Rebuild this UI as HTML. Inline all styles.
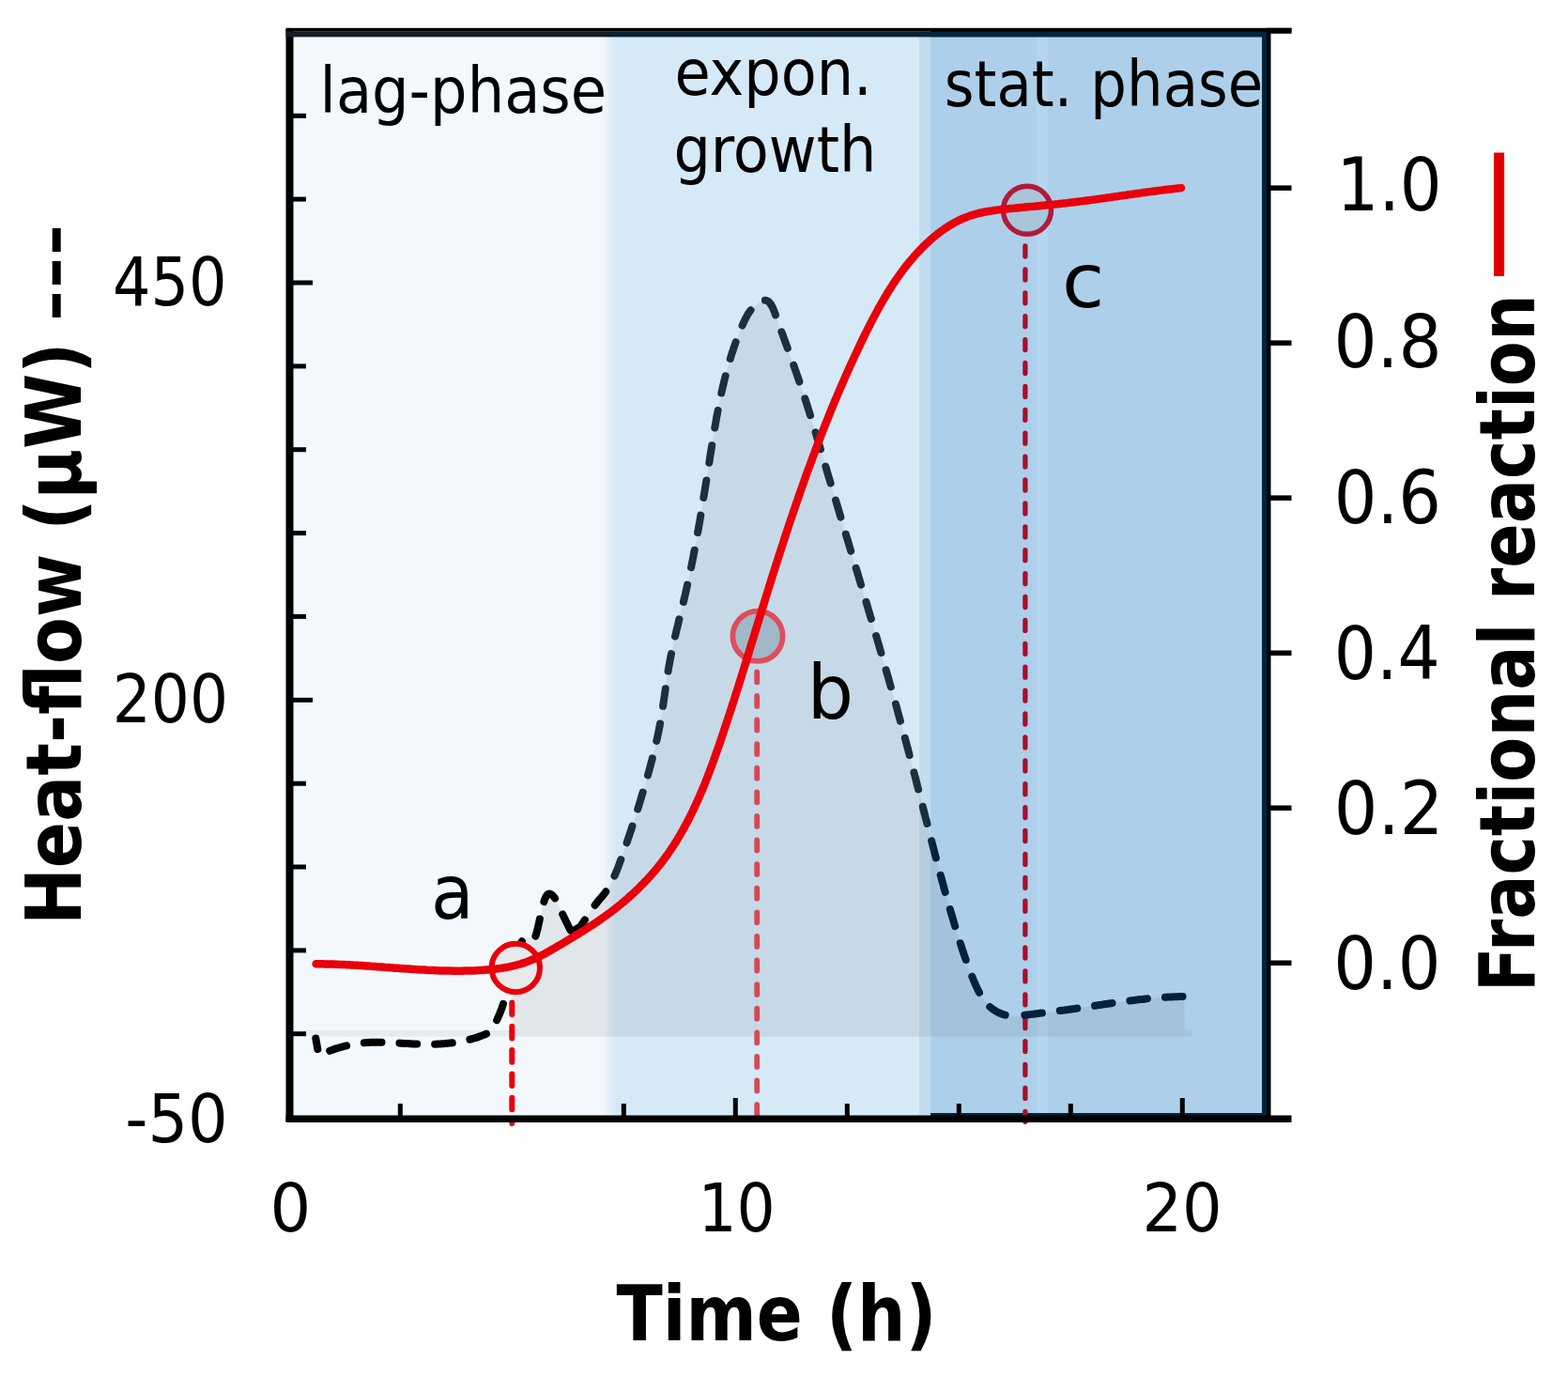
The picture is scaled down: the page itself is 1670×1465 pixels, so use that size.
<!DOCTYPE html>
<html><head><meta charset="utf-8"><title>Heat-flow and fractional reaction</title>
<style>html,body{margin:0;padding:0;background:#fff;}body{width:1670px;height:1465px;overflow:hidden;}svg{display:block;}</style>
</head><body>
<svg width="1670" height="1465" viewBox="0 0 1670 1465">
<defs>
<linearGradient id="hg" gradientUnits="userSpaceOnUse" x1="313" y1="0" x2="1349" y2="0"><stop offset="0" stop-color="#000"/><stop offset="0.3204" stop-color="#000"/><stop offset="0.3301" stop-color="#1c2f3d"/><stop offset="0.6506" stop-color="#1c2f3d"/><stop offset="0.6602" stop-color="#02213a"/><stop offset="1" stop-color="#02213a"/></linearGradient>
<linearGradient id="eg" x1="0" y1="0" x2="1" y2="0"><stop offset="0" stop-color="#f3f8fc"/><stop offset="1" stop-color="#d6e9f6"/></linearGradient>
</defs>
<rect width="1670" height="1465" fill="#fff"/>
<rect x="312" y="36" width="336" height="1152" fill="#f3f8fc"/>
<rect x="642" y="36" width="14" height="1152" fill="url(#eg)"/>
<rect x="656" y="36" width="324" height="1152" fill="#d6e9f6"/>
<rect x="979" y="36" width="12" height="1152" fill="#c2dcf0"/>
<rect x="991" y="36" width="358" height="1152" fill="#aecfea"/>
<rect x="1104" y="36" width="12" height="1152" fill="#b6d5ee"/>
<rect x="991" y="33" width="358" height="6.5" fill="#00253f"/>
<rect x="1344" y="36" width="5" height="1152" fill="#00253f"/>
<rect x="991" y="1185" width="358" height="4" fill="#00253f"/>
<path d="M546.0,1103.5 L546.4,1025.2 L546.9,1023.4 L547.4,1021.6 L547.9,1019.9 L548.4,1018.2 L549.0,1016.4 L549.6,1014.8 L550.3,1013.1 L551.0,1011.4 L551.7,1009.8 L552.5,1008.2 L553.3,1006.6 L554.1,1005.1 L555.0,1003.6 L556.0,1002.1 L557.0,1000.6 L558.1,999.2 L559.2,997.8 L569.5,999.5 L570.0,997.9 L570.5,996.3 L571.0,994.8 L571.4,993.2 L571.8,991.7 L572.2,990.2 L572.6,988.7 L573.0,987.2 L573.3,985.7 L573.6,984.2 L574.0,982.7 L574.3,981.2 L574.6,979.7 L574.9,978.2 L575.2,976.7 L575.5,975.2 L575.9,973.6 L576.2,972.1 L576.6,970.6 L576.9,969.0 L577.3,967.4 L577.7,965.8 L578.2,964.1 L578.6,962.5 L579.1,960.8 L579.7,959.1 L580.2,957.4 L580.9,955.8 L581.6,954.4 L582.4,953.2 L583.2,952.3 L584.2,951.7 L585.3,951.6 L586.5,951.9 L587.8,952.7 L589.3,954.2 L590.8,956.0 L591.9,957.7 L592.1,958.7 L608.5,992.5 L618.6,986.0 L629.3,969.5 L637.7,958.5 L638.9,957.1 L640.2,955.7 L641.5,954.3 L642.7,952.8 L643.8,951.4 L644.9,949.9 L646.0,948.3 L647.0,946.8 L648.0,945.2 L649.0,943.6 L649.9,942.0 L650.8,940.4 L651.6,938.8 L652.4,937.1 L653.2,935.4 L654.0,933.7 L654.8,932.0 L655.5,930.3 L656.2,928.6 L656.9,926.9 L657.6,925.2 L658.3,923.4 L658.9,921.7 L659.6,919.9 L660.2,918.2 L660.8,916.4 L661.5,914.7 L662.1,912.9 L662.7,911.1 L663.4,909.4 L664.0,907.6 L664.6,905.9 L665.2,904.1 L665.8,902.3 L666.4,900.6 L667.0,898.8 L667.6,897.0 L668.2,895.3 L668.8,893.5 L669.4,891.7 L670.0,890.0 L670.6,888.2 L671.2,886.4 L671.8,884.7 L672.4,882.9 L673.0,881.1 L673.5,879.4 L674.1,877.6 L674.7,875.8 L675.2,874.0 L675.8,872.3 L676.4,870.5 L676.9,868.7 L677.5,866.9 L678.1,865.2 L678.6,863.4 L679.2,861.6 L679.7,859.8 L680.3,858.0 L680.8,856.3 L681.4,854.5 L681.9,852.7 L682.4,850.9 L683.0,849.1 L683.5,847.3 L684.0,845.6 L684.6,843.8 L685.1,842.0 L685.6,840.2 L686.2,838.4 L686.7,836.6 L687.2,834.8 L687.7,833.1 L688.2,831.3 L688.8,829.5 L689.3,827.7 L689.8,825.9 L690.3,824.1 L690.8,822.3 L691.3,820.5 L691.8,818.7 L692.3,816.9 L692.8,815.1 L693.2,813.3 L693.7,811.5 L694.2,809.7 L694.7,807.9 L695.1,806.1 L695.6,804.3 L696.0,802.5 L696.5,800.7 L696.9,798.9 L697.4,797.1 L697.8,795.3 L698.2,793.5 L698.6,791.7 L699.0,789.9 L699.5,788.0 L699.9,786.2 L700.3,784.4 L700.6,782.6 L701.0,780.8 L701.4,778.9 L701.8,777.1 L702.1,775.3 L702.5,773.5 L702.8,771.6 L703.2,769.8 L703.5,768.0 L703.8,766.1 L704.1,764.3 L704.4,762.5 L704.7,760.6 L705.0,758.8 L705.3,756.9 L705.6,755.1 L705.9,753.3 L706.2,751.4 L706.4,749.6 L706.7,747.7 L707.0,745.9 L707.2,744.0 L707.5,742.2 L707.8,740.3 L708.0,738.5 L708.3,736.6 L708.6,734.8 L708.8,732.9 L709.1,731.1 L709.4,729.3 L709.6,727.4 L709.9,725.6 L710.2,723.7 L710.5,721.9 L710.7,720.0 L711.0,718.2 L711.3,716.3 L711.6,714.5 L711.9,712.7 L712.2,710.8 L712.5,709.0 L712.9,707.1 L713.2,705.3 L713.5,703.5 L713.9,701.7 L714.2,699.8 L714.6,698.0 L715.0,696.2 L715.3,694.3 L715.7,692.5 L716.1,690.7 L716.5,688.9 L716.9,687.1 L717.3,685.2 L717.7,683.4 L718.1,681.6 L718.5,679.8 L718.9,678.0 L719.4,676.2 L719.8,674.3 L720.2,672.5 L720.6,670.7 L721.1,668.9 L721.5,667.1 L722.0,665.3 L722.4,663.5 L722.8,661.7 L723.3,659.8 L723.7,658.0 L724.2,656.2 L724.6,654.4 L725.1,652.6 L725.5,650.8 L725.9,649.0 L726.4,647.2 L726.8,645.4 L727.3,643.5 L727.7,641.7 L728.1,639.9 L728.6,638.1 L729.0,636.3 L729.4,634.5 L729.9,632.7 L730.3,630.9 L730.7,629.0 L731.1,627.2 L731.5,625.4 L731.9,623.6 L732.3,621.8 L732.7,620.0 L733.1,618.1 L733.5,616.3 L733.9,614.5 L734.3,612.7 L734.7,610.9 L735.1,609.0 L735.4,607.2 L735.8,605.4 L736.2,603.6 L736.6,601.7 L736.9,599.9 L737.3,598.1 L737.7,596.3 L738.0,594.4 L738.4,592.6 L738.7,590.8 L739.1,588.9 L739.4,587.1 L739.8,585.3 L740.1,583.5 L740.5,581.6 L740.8,579.8 L741.1,578.0 L741.5,576.1 L741.8,574.3 L742.1,572.5 L742.5,570.6 L742.8,568.8 L743.1,567.0 L743.5,565.1 L743.8,563.3 L744.1,561.5 L744.4,559.6 L744.7,557.8 L745.1,556.0 L745.4,554.1 L745.7,552.3 L746.0,550.4 L746.3,548.6 L746.6,546.8 L746.9,544.9 L747.2,543.1 L747.5,541.2 L747.8,539.4 L748.1,537.6 L748.4,535.7 L748.7,533.9 L749.0,532.1 L749.3,530.2 L749.6,528.4 L749.9,526.5 L750.2,524.7 L750.5,522.9 L750.8,521.0 L751.1,519.2 L751.4,517.3 L751.7,515.5 L752.0,513.6 L752.3,511.8 L752.6,510.0 L752.9,508.1 L753.1,506.3 L753.4,504.4 L753.7,502.6 L754.0,500.8 L754.3,498.9 L754.6,497.1 L754.9,495.2 L755.2,493.4 L755.5,491.5 L755.8,489.7 L756.0,487.9 L756.3,486.0 L756.6,484.2 L756.9,482.3 L757.2,480.5 L757.5,478.6 L757.8,476.8 L758.1,475.0 L758.4,473.1 L758.7,471.3 L759.0,469.4 L759.3,467.6 L759.6,465.8 L759.9,463.9 L760.2,462.1 L760.5,460.2 L760.8,458.4 L761.1,456.6 L761.4,454.7 L761.7,452.9 L762.0,451.0 L762.4,449.2 L762.7,447.4 L763.0,445.5 L763.3,443.7 L763.7,441.9 L764.0,440.1 L764.4,438.2 L764.7,436.4 L765.1,434.6 L765.4,432.7 L765.8,430.9 L766.1,429.1 L766.5,427.3 L766.9,425.4 L767.2,423.6 L767.6,421.8 L768.0,420.0 L768.4,418.2 L768.8,416.4 L769.2,414.6 L769.6,412.7 L770.0,410.9 L770.5,409.1 L770.9,407.3 L771.3,405.5 L771.8,403.7 L772.2,401.9 L772.7,400.1 L773.1,398.3 L773.6,396.5 L774.1,394.7 L774.6,392.9 L775.1,391.2 L775.6,389.4 L776.1,387.6 L776.6,385.8 L777.1,384.0 L777.7,382.3 L778.2,380.5 L778.8,378.7 L779.3,376.9 L779.9,375.2 L780.5,373.4 L781.1,371.7 L781.6,369.9 L782.3,368.1 L782.9,366.4 L783.5,364.6 L784.1,362.9 L784.8,361.1 L785.4,359.4 L786.1,357.7 L786.8,355.9 L787.5,354.2 L788.1,352.4 L788.8,350.7 L789.6,349.0 L790.3,347.3 L791.0,345.5 L791.8,343.8 L792.6,342.1 L793.4,340.4 L794.2,338.8 L795.1,337.1 L796.0,335.5 L796.9,333.9 L798.0,332.4 L799.0,330.9 L800.2,329.5 L801.4,328.1 L802.7,326.7 L804.0,325.4 L805.5,324.2 L807.0,323.1 L808.7,322.0 L810.4,321.0 L812.2,320.3 L813.9,319.8 L815.6,319.8 L817.2,320.3 L818.6,321.2 L819.9,322.5 L821.0,324.1 L822.1,325.8 L822.9,327.4 L823.7,329.2 L824.4,330.9 L825.1,332.7 L825.7,334.4 L826.3,336.2 L827.0,338.0 L827.6,339.7 L828.2,341.5 L828.8,343.2 L829.5,345.0 L830.1,346.8 L830.7,348.5 L831.4,350.3 L832.0,352.0 L832.6,353.8 L833.3,355.5 L833.9,357.3 L834.5,359.1 L835.2,360.8 L835.8,362.6 L836.4,364.3 L837.1,366.1 L837.7,367.8 L838.4,369.6 L839.0,371.3 L839.6,373.1 L840.3,374.8 L840.9,376.6 L841.5,378.3 L842.2,380.1 L842.8,381.8 L843.4,383.6 L844.0,385.3 L844.7,387.1 L845.3,388.8 L845.9,390.6 L846.5,392.3 L847.1,394.1 L847.8,395.9 L848.4,397.6 L849.0,399.4 L849.6,401.1 L850.2,402.9 L850.8,404.6 L851.4,406.4 L852.0,408.2 L852.6,409.9 L853.2,411.7 L853.8,413.5 L854.4,415.2 L855.0,417.0 L855.5,418.8 L856.1,420.5 L856.7,422.3 L857.3,424.1 L857.8,425.8 L858.4,427.6 L859.0,429.4 L859.5,431.1 L860.1,432.9 L860.7,434.7 L861.2,436.5 L861.8,438.2 L862.3,440.0 L862.9,441.8 L863.4,443.6 L864.0,445.3 L864.5,447.1 L865.1,448.9 L865.6,450.7 L866.2,452.5 L866.7,454.2 L867.3,456.0 L867.8,457.8 L868.3,459.6 L868.9,461.4 L869.4,463.1 L869.9,464.9 L870.5,466.7 L871.0,468.5 L871.5,470.3 L872.1,472.1 L872.6,473.8 L873.1,475.6 L873.7,477.4 L874.2,479.2 L874.7,481.0 L875.2,482.8 L875.8,484.5 L876.3,486.3 L876.8,488.1 L877.4,489.9 L877.9,491.7 L878.4,493.5 L878.9,495.3 L879.5,497.0 L880.0,498.8 L880.5,500.6 L881.0,502.4 L881.6,504.2 L882.1,506.0 L882.6,507.8 L883.2,509.5 L883.7,511.3 L884.2,513.1 L884.8,514.9 L885.3,516.7 L885.8,518.5 L886.3,520.2 L886.9,522.0 L887.4,523.8 L887.9,525.6 L888.5,527.4 L889.0,529.2 L889.5,531.0 L890.1,532.7 L890.6,534.5 L891.1,536.3 L891.7,538.1 L892.2,539.9 L892.7,541.7 L893.3,543.4 L893.8,545.2 L894.3,547.0 L894.9,548.8 L895.4,550.6 L895.9,552.4 L896.5,554.1 L897.0,555.9 L897.6,557.7 L898.1,559.5 L898.6,561.3 L899.2,563.1 L899.7,564.8 L900.2,566.6 L900.8,568.4 L901.3,570.2 L901.8,572.0 L902.4,573.8 L902.9,575.5 L903.4,577.3 L904.0,579.1 L904.5,580.9 L905.1,582.7 L905.6,584.5 L906.1,586.3 L906.7,588.0 L907.2,589.8 L907.7,591.6 L908.3,593.4 L908.8,595.2 L909.3,597.0 L909.9,598.7 L910.4,600.5 L910.9,602.3 L911.5,604.1 L912.0,605.9 L912.5,607.7 L913.1,609.4 L913.6,611.2 L914.2,613.0 L914.7,614.8 L915.2,616.6 L915.8,618.4 L916.3,620.2 L916.8,621.9 L917.4,623.7 L917.9,625.5 L918.4,627.3 L919.0,629.1 L919.5,630.9 L920.0,632.6 L920.6,634.4 L921.1,636.2 L921.6,638.0 L922.2,639.8 L922.7,641.6 L923.2,643.4 L923.7,645.1 L924.3,646.9 L924.8,648.7 L925.3,650.5 L925.9,652.3 L926.4,654.1 L926.9,655.9 L927.5,657.7 L928.0,659.4 L928.5,661.2 L929.0,663.0 L929.6,664.8 L930.1,666.6 L930.6,668.4 L931.1,670.2 L931.7,671.9 L932.2,673.7 L932.7,675.5 L933.2,677.3 L933.8,679.1 L934.3,680.9 L934.8,682.7 L935.3,684.5 L935.9,686.3 L936.4,688.0 L936.9,689.8 L937.4,691.6 L937.9,693.4 L938.5,695.2 L939.0,697.0 L939.5,698.8 L940.0,700.6 L940.5,702.4 L941.0,704.1 L941.6,705.9 L942.1,707.7 L942.6,709.5 L943.1,711.3 L943.6,713.1 L944.1,714.9 L944.6,716.7 L945.2,718.5 L945.7,720.3 L946.2,722.1 L946.7,723.8 L947.2,725.6 L947.7,727.4 L948.2,729.2 L948.7,731.0 L949.2,732.8 L949.7,734.6 L950.2,736.4 L950.7,738.2 L951.2,740.0 L951.8,741.8 L952.3,743.6 L952.8,745.4 L953.3,747.2 L953.8,748.9 L954.3,750.7 L954.8,752.5 L955.3,754.3 L955.7,756.1 L956.2,757.9 L956.7,759.7 L957.2,761.5 L957.7,763.3 L958.2,765.1 L958.7,766.9 L959.2,768.7 L959.7,770.5 L960.2,772.3 L960.7,774.1 L961.2,775.9 L961.6,777.7 L962.1,779.5 L962.6,781.3 L963.1,783.1 L963.6,784.9 L964.1,786.7 L964.6,788.5 L965.0,790.3 L965.5,792.1 L966.0,793.9 L966.5,795.7 L966.9,797.5 L967.4,799.3 L967.9,801.1 L968.4,802.9 L968.8,804.7 L969.3,806.5 L969.8,808.3 L970.3,810.1 L970.7,811.9 L971.2,813.7 L971.7,815.5 L972.1,817.3 L972.6,819.1 L973.1,820.9 L973.5,822.7 L974.0,824.5 L974.5,826.3 L974.9,828.1 L975.4,829.9 L975.9,831.8 L976.3,833.6 L976.8,835.4 L977.2,837.2 L977.7,839.0 L978.2,840.8 L978.6,842.6 L979.1,844.4 L979.6,846.2 L980.0,848.0 L980.5,849.8 L980.9,851.6 L981.4,853.4 L981.9,855.2 L982.3,857.0 L982.8,858.8 L983.2,860.6 L983.7,862.4 L984.2,864.3 L984.6,866.1 L985.1,867.9 L985.5,869.7 L986.0,871.5 L986.5,873.3 L986.9,875.1 L987.4,876.9 L987.9,878.7 L988.3,880.5 L988.8,882.3 L989.2,884.1 L989.7,885.9 L990.2,887.7 L990.6,889.5 L991.1,891.3 L991.6,893.1 L992.0,894.9 L992.5,896.7 L993.0,898.5 L993.4,900.3 L993.9,902.2 L994.4,904.0 L994.9,905.8 L995.3,907.6 L995.8,909.4 L996.3,911.2 L996.7,913.0 L997.2,914.8 L997.7,916.6 L998.2,918.4 L998.6,920.2 L999.1,922.0 L999.6,923.8 L1000.1,925.6 L1000.6,927.4 L1001.0,929.2 L1001.5,931.0 L1002.0,932.8 L1002.5,934.6 L1003.0,936.4 L1003.5,938.2 L1004.0,940.0 L1004.5,941.8 L1005.0,943.6 L1005.4,945.4 L1005.9,947.2 L1006.4,949.0 L1006.9,950.8 L1007.4,952.5 L1007.9,954.3 L1008.4,956.1 L1008.9,957.9 L1009.5,959.7 L1010.0,961.5 L1010.5,963.3 L1011.0,965.1 L1011.5,966.9 L1012.0,968.7 L1012.5,970.5 L1013.1,972.3 L1013.6,974.0 L1014.1,975.8 L1014.6,977.6 L1015.2,979.4 L1015.7,981.2 L1016.2,983.0 L1016.8,984.8 L1017.3,986.5 L1017.8,988.3 L1018.4,990.1 L1018.9,991.9 L1019.5,993.7 L1020.0,995.4 L1020.6,997.2 L1021.1,999.0 L1021.7,1000.8 L1022.3,1002.5 L1022.8,1004.3 L1023.4,1006.1 L1024.0,1007.8 L1024.5,1009.6 L1025.1,1011.4 L1025.7,1013.1 L1026.3,1014.9 L1026.9,1016.7 L1027.5,1018.4 L1028.1,1020.2 L1028.7,1021.9 L1029.3,1023.7 L1029.9,1025.5 L1030.5,1027.2 L1031.2,1029.0 L1031.8,1030.7 L1032.5,1032.4 L1033.1,1034.2 L1033.8,1035.9 L1034.5,1037.7 L1035.2,1039.4 L1035.9,1041.1 L1036.6,1042.9 L1037.3,1044.6 L1038.1,1046.3 L1038.8,1048.1 L1039.6,1049.8 L1040.4,1051.5 L1041.2,1053.2 L1042.0,1054.9 L1042.9,1056.6 L1043.8,1058.2 L1044.7,1059.9 L1045.7,1061.5 L1046.7,1063.0 L1047.7,1064.6 L1048.9,1066.1 L1050.0,1067.5 L1051.3,1068.9 L1052.5,1070.3 L1053.9,1071.6 L1055.3,1072.8 L1056.8,1074.0 L1058.4,1075.1 L1060.0,1076.1 L1061.6,1077.1 L1063.3,1078.0 L1065.0,1078.7 L1066.8,1079.5 L1068.6,1080.1 L1070.4,1080.6 L1072.2,1081.0 L1074.1,1081.3 L1075.9,1081.6 L1077.8,1081.7 L1079.6,1081.7 L1081.5,1081.7 L1083.3,1081.6 L1085.2,1081.5 L1087.1,1081.3 L1088.9,1081.1 L1090.8,1080.9 L1092.6,1080.6 L1094.5,1080.4 L1096.3,1080.2 L1098.2,1079.9 L1100.1,1079.7 L1101.9,1079.5 L1103.8,1079.2 L1105.6,1079.0 L1107.5,1078.8 L1109.3,1078.6 L1111.2,1078.3 L1113.0,1078.1 L1114.9,1077.9 L1116.7,1077.6 L1118.6,1077.4 L1120.4,1077.2 L1122.3,1076.9 L1124.1,1076.7 L1125.9,1076.5 L1127.8,1076.2 L1129.6,1076.0 L1131.5,1075.7 L1133.3,1075.5 L1135.2,1075.2 L1137.0,1075.0 L1138.8,1074.7 L1140.7,1074.5 L1142.5,1074.2 L1144.4,1074.0 L1146.2,1073.7 L1148.1,1073.4 L1149.9,1073.2 L1151.7,1072.9 L1153.6,1072.6 L1155.4,1072.3 L1157.3,1072.1 L1159.1,1071.8 L1161.0,1071.5 L1162.8,1071.2 L1164.7,1071.0 L1166.5,1070.7 L1168.3,1070.4 L1170.2,1070.1 L1172.0,1069.9 L1173.9,1069.6 L1175.7,1069.3 L1177.6,1069.0 L1179.4,1068.8 L1181.3,1068.5 L1183.1,1068.2 L1184.9,1068.0 L1186.8,1067.7 L1188.6,1067.4 L1190.5,1067.2 L1192.3,1066.9 L1194.2,1066.7 L1196.0,1066.4 L1197.9,1066.2 L1199.7,1065.9 L1201.6,1065.7 L1203.4,1065.5 L1205.3,1065.2 L1207.1,1065.0 L1209.0,1064.8 L1210.8,1064.5 L1212.7,1064.3 L1214.5,1064.1 L1216.4,1063.9 L1218.2,1063.7 L1220.1,1063.5 L1221.9,1063.3 L1223.8,1063.2 L1225.6,1063.0 L1227.5,1062.8 L1229.3,1062.6 L1231.2,1062.5 L1233.1,1062.3 L1234.9,1062.2 L1236.8,1062.0 L1238.6,1061.9 L1240.5,1061.8 L1242.4,1061.7 L1244.2,1061.6 L1246.1,1061.5 L1247.9,1061.4 L1249.8,1061.3 L1251.7,1061.2 L1253.5,1061.2 L1255.4,1061.1 L1257.3,1061.1 L1259.1,1061.0 L1261.0,1061.0 L1262.0,1103.5 Z" fill="rgb(80,90,100)" fill-opacity="0.11"/>
<rect x="324" y="1097" width="222" height="6.5" fill="rgb(80,90,100)" fill-opacity="0.08"/>
<rect x="1262" y="1096" width="8" height="7.5" fill="rgb(80,90,100)" fill-opacity="0.08"/>
<line x1="545.3" y1="1067.5" x2="545.3" y2="1196" stroke="#ea000a" stroke-width="6" stroke-dasharray="12.6 12.7" stroke-linecap="round"/>
<line x1="806.2" y1="715.3" x2="806.2" y2="1196" stroke="#d24a5a" stroke-width="5.8" stroke-dasharray="11 14.6" stroke-linecap="round"/>
<line x1="1091.9" y1="262" x2="1091.9" y2="1196" stroke="#a5102e" stroke-width="5.3" stroke-dasharray="11 13.9" stroke-linecap="round"/>
<path d="M336.3,1105.5 L339.4,1123.2 L340.9,1123.1 L342.4,1122.4 L343.9,1121.8 L345.4,1121.1 L346.8,1120.5 L348.3,1119.9 L349.8,1119.3 L351.3,1118.7 L352.8,1118.2 L354.3,1117.6 L355.8,1117.1 L357.3,1116.6 L358.8,1116.1 L360.4,1115.7 L361.9,1115.2 L363.4,1114.8 L364.9,1114.4 L366.4,1114.0 L367.9,1113.6 L369.5,1113.2 L371.0,1112.9 L372.5,1112.5 L374.0,1112.2 L375.6,1111.9 L377.1,1111.7 L378.6,1111.4 L380.2,1111.2 L381.7,1111.0 L383.2,1110.8 L384.8,1110.6 L386.3,1110.4 L387.9,1110.3 L389.4,1110.1 L390.9,1110.0 L392.5,1109.9 L394.0,1109.8 L395.6,1109.8 L397.1,1109.7 L398.7,1109.7 L400.2,1109.7 L401.8,1109.7 L403.3,1109.7 L404.9,1109.7 L406.4,1109.7 L408.0,1109.7 L409.6,1109.8 L411.1,1109.8 L412.7,1109.9 L414.2,1110.0 L415.8,1110.0 L417.4,1110.1 L418.9,1110.2 L420.5,1110.3 L422.0,1110.4 L423.6,1110.5 L425.2,1110.6 L426.7,1110.7 L428.3,1110.8 L429.9,1110.9 L431.4,1111.0 L433.0,1111.0 L434.6,1111.1 L436.1,1111.2 L437.7,1111.3 L439.3,1111.4 L440.9,1111.5 L442.4,1111.6 L444.0,1111.6 L445.6,1111.7 L447.2,1111.7 L448.7,1111.8 L450.3,1111.8 L451.9,1111.8 L453.5,1111.8 L455.0,1111.8 L456.6,1111.8 L458.2,1111.8 L459.7,1111.8 L461.3,1111.8 L462.9,1111.7 L464.5,1111.7 L466.0,1111.6 L467.6,1111.5 L469.2,1111.4 L470.7,1111.3 L472.3,1111.2 L473.9,1111.1 L475.4,1111.0 L477.0,1110.8 L478.5,1110.6 L480.1,1110.5 L481.7,1110.3 L483.2,1110.1 L484.8,1109.8 L486.3,1109.6 L487.8,1109.3 L489.4,1109.1 L490.9,1108.8 L492.4,1108.5 L494.0,1108.2 L495.5,1107.9 L497.0,1107.5 L498.5,1107.1 L500.1,1106.8 L501.6,1106.4 L503.1,1105.9 L504.6,1105.5 L506.1,1105.1 L507.6,1104.6 L509.1,1104.1 L510.6,1103.6 L512.0,1103.1 L513.5,1102.5 L515.0,1101.9 L516.4,1101.4 L517.9,1100.7 L519.4,1100.1 L520.8,1099.5 L522.3,1098.8 L523.0,1096.9 L524.0,1095.4 L524.9,1093.8 L525.9,1092.2 L526.8,1090.6 L527.6,1089.0 L528.5,1087.3 L529.3,1085.7 L530.1,1084.0 L530.8,1082.4 L531.6,1080.7 L532.3,1079.0 L533.0,1077.3 L533.6,1075.6 L534.3,1073.9 L534.9,1072.1 L535.5,1070.4 L536.0,1068.6 L536.6,1066.9 L537.1,1065.1 L537.6,1063.3 L538.1,1061.6 L538.6,1059.8 L539.1,1058.0 L539.5,1056.2 L540.0,1054.4 L540.4,1052.5 L540.8,1050.7 L541.2,1048.9 L541.6,1047.1 L542.0,1045.2 L542.4,1043.4 L542.8,1041.5 L543.1,1039.7 L543.5,1037.9 L543.9,1036.0 L544.3,1034.2 L544.7,1032.4 L545.1,1030.6 L545.5,1028.8 L545.9,1027.0 L546.4,1025.2 L546.9,1023.4 L547.4,1021.6 L547.9,1019.9 L548.4,1018.2" fill="none" stroke="url(#hg)" stroke-width="8" stroke-dasharray="18.7 19.0" stroke-dashoffset="7.04" stroke-linecap="round" stroke-linejoin="round"/>
<path d="M548.4,1018.2 L549.0,1016.4 L549.6,1014.8 L550.3,1013.1 L551.0,1011.4 L551.7,1009.8 L552.5,1008.2 L553.3,1006.6 L554.1,1005.1 L555.0,1003.6 L556.0,1002.1 L557.0,1000.6 L558.1,999.2 L559.2,997.8 L569.5,999.5 L570.0,997.9 L570.5,996.3 L571.0,994.8 L571.4,993.2 L571.8,991.7 L572.2,990.2 L572.6,988.7 L573.0,987.2 L573.3,985.7 L573.6,984.2 L574.0,982.7 L574.3,981.2 L574.6,979.7 L574.9,978.2 L575.2,976.7 L575.5,975.2 L575.9,973.6 L576.2,972.1 L576.6,970.6 L576.9,969.0 L577.3,967.4 L577.7,965.8 L578.2,964.1 L578.6,962.5 L579.1,960.8 L579.7,959.1 L580.2,957.4 L580.9,955.8 L581.6,954.4 L582.4,953.2 L583.2,952.3 L584.2,951.7 L585.3,951.6 L586.5,951.9 L587.8,952.7 L589.3,954.2 L590.8,956.0 L591.9,957.7 L592.1,958.7 L608.5,992.5" fill="none" stroke="url(#hg)" stroke-width="8" stroke-dasharray="18.7 19.0" stroke-dashoffset="1.09" stroke-linecap="round" stroke-linejoin="round"/>
<path d="M608.5,992.5 L618.6,986.0 L629.3,969.5 L637.7,958.5 L638.9,957.1 L640.2,955.7 L641.5,954.3 L642.7,952.8 L643.8,951.4 L644.9,949.9 L646.0,948.3 L647.0,946.8 L648.0,945.2 L649.0,943.6 L649.9,942.0 L650.8,940.4 L651.6,938.8 L652.4,937.1 L653.2,935.4 L654.0,933.7 L654.8,932.0 L655.5,930.3 L656.2,928.6 L656.9,926.9 L657.6,925.2 L658.3,923.4 L658.9,921.7 L659.6,919.9 L660.2,918.2 L660.8,916.4 L661.5,914.7 L662.1,912.9 L662.7,911.1 L663.4,909.4 L664.0,907.6 L664.6,905.9 L665.2,904.1 L665.8,902.3 L666.4,900.6 L667.0,898.8 L667.6,897.0 L668.2,895.3 L668.8,893.5 L669.4,891.7 L670.0,890.0 L670.6,888.2 L671.2,886.4 L671.8,884.7 L672.4,882.9 L673.0,881.1 L673.5,879.4 L674.1,877.6 L674.7,875.8 L675.2,874.0 L675.8,872.3 L676.4,870.5 L676.9,868.7 L677.5,866.9 L678.1,865.2 L678.6,863.4 L679.2,861.6 L679.7,859.8 L680.3,858.0 L680.8,856.3 L681.4,854.5 L681.9,852.7 L682.4,850.9 L683.0,849.1 L683.5,847.3 L684.0,845.6 L684.6,843.8 L685.1,842.0 L685.6,840.2 L686.2,838.4 L686.7,836.6 L687.2,834.8 L687.7,833.1 L688.2,831.3 L688.8,829.5 L689.3,827.7 L689.8,825.9 L690.3,824.1 L690.8,822.3 L691.3,820.5 L691.8,818.7 L692.3,816.9 L692.8,815.1 L693.2,813.3 L693.7,811.5 L694.2,809.7 L694.7,807.9 L695.1,806.1 L695.6,804.3 L696.0,802.5 L696.5,800.7 L696.9,798.9 L697.4,797.1 L697.8,795.3 L698.2,793.5 L698.6,791.7 L699.0,789.9 L699.5,788.0 L699.9,786.2 L700.3,784.4 L700.6,782.6 L701.0,780.8 L701.4,778.9 L701.8,777.1 L702.1,775.3 L702.5,773.5 L702.8,771.6 L703.2,769.8 L703.5,768.0 L703.8,766.1 L704.1,764.3 L704.4,762.5 L704.7,760.6 L705.0,758.8 L705.3,756.9 L705.6,755.1 L705.9,753.3 L706.2,751.4 L706.4,749.6 L706.7,747.7 L707.0,745.9 L707.2,744.0 L707.5,742.2 L707.8,740.3 L708.0,738.5 L708.3,736.6 L708.6,734.8 L708.8,732.9 L709.1,731.1 L709.4,729.3 L709.6,727.4 L709.9,725.6 L710.2,723.7 L710.5,721.9 L710.7,720.0 L711.0,718.2 L711.3,716.3 L711.6,714.5 L711.9,712.7 L712.2,710.8 L712.5,709.0 L712.9,707.1 L713.2,705.3 L713.5,703.5 L713.9,701.7 L714.2,699.8 L714.6,698.0 L715.0,696.2 L715.3,694.3 L715.7,692.5 L716.1,690.7 L716.5,688.9 L716.9,687.1 L717.3,685.2 L717.7,683.4 L718.1,681.6 L718.5,679.8 L718.9,678.0 L719.4,676.2 L719.8,674.3 L720.2,672.5 L720.6,670.7 L721.1,668.9 L721.5,667.1 L722.0,665.3 L722.4,663.5 L722.8,661.7 L723.3,659.8 L723.7,658.0 L724.2,656.2 L724.6,654.4 L725.1,652.6 L725.5,650.8 L725.9,649.0 L726.4,647.2 L726.8,645.4 L727.3,643.5 L727.7,641.7 L728.1,639.9 L728.6,638.1 L729.0,636.3 L729.4,634.5 L729.9,632.7 L730.3,630.9 L730.7,629.0 L731.1,627.2 L731.5,625.4 L731.9,623.6 L732.3,621.8 L732.7,620.0 L733.1,618.1 L733.5,616.3 L733.9,614.5 L734.3,612.7 L734.7,610.9 L735.1,609.0 L735.4,607.2 L735.8,605.4 L736.2,603.6 L736.6,601.7 L736.9,599.9 L737.3,598.1 L737.7,596.3 L738.0,594.4 L738.4,592.6 L738.7,590.8 L739.1,588.9 L739.4,587.1 L739.8,585.3 L740.1,583.5 L740.5,581.6 L740.8,579.8 L741.1,578.0 L741.5,576.1 L741.8,574.3 L742.1,572.5 L742.5,570.6 L742.8,568.8 L743.1,567.0 L743.5,565.1 L743.8,563.3 L744.1,561.5 L744.4,559.6 L744.7,557.8 L745.1,556.0 L745.4,554.1 L745.7,552.3 L746.0,550.4 L746.3,548.6 L746.6,546.8 L746.9,544.9 L747.2,543.1 L747.5,541.2 L747.8,539.4 L748.1,537.6 L748.4,535.7 L748.7,533.9 L749.0,532.1 L749.3,530.2 L749.6,528.4 L749.9,526.5 L750.2,524.7 L750.5,522.9 L750.8,521.0 L751.1,519.2 L751.4,517.3 L751.7,515.5 L752.0,513.6 L752.3,511.8 L752.6,510.0 L752.9,508.1 L753.1,506.3 L753.4,504.4 L753.7,502.6 L754.0,500.8 L754.3,498.9 L754.6,497.1 L754.9,495.2 L755.2,493.4 L755.5,491.5 L755.8,489.7 L756.0,487.9 L756.3,486.0 L756.6,484.2 L756.9,482.3 L757.2,480.5 L757.5,478.6 L757.8,476.8 L758.1,475.0 L758.4,473.1 L758.7,471.3 L759.0,469.4 L759.3,467.6 L759.6,465.8 L759.9,463.9 L760.2,462.1 L760.5,460.2 L760.8,458.4 L761.1,456.6 L761.4,454.7 L761.7,452.9 L762.0,451.0 L762.4,449.2 L762.7,447.4 L763.0,445.5 L763.3,443.7 L763.7,441.9 L764.0,440.1 L764.4,438.2 L764.7,436.4 L765.1,434.6 L765.4,432.7 L765.8,430.9 L766.1,429.1 L766.5,427.3 L766.9,425.4 L767.2,423.6 L767.6,421.8 L768.0,420.0 L768.4,418.2 L768.8,416.4 L769.2,414.6 L769.6,412.7 L770.0,410.9 L770.5,409.1 L770.9,407.3 L771.3,405.5 L771.8,403.7 L772.2,401.9 L772.7,400.1 L773.1,398.3 L773.6,396.5 L774.1,394.7 L774.6,392.9 L775.1,391.2 L775.6,389.4 L776.1,387.6 L776.6,385.8 L777.1,384.0 L777.7,382.3 L778.2,380.5 L778.8,378.7 L779.3,376.9 L779.9,375.2 L780.5,373.4 L781.1,371.7 L781.6,369.9 L782.3,368.1 L782.9,366.4 L783.5,364.6 L784.1,362.9 L784.8,361.1 L785.4,359.4 L786.1,357.7 L786.8,355.9 L787.5,354.2 L788.1,352.4 L788.8,350.7 L789.6,349.0 L790.3,347.3 L791.0,345.5 L791.8,343.8 L792.6,342.1 L793.4,340.4 L794.2,338.8 L795.1,337.1 L796.0,335.5 L796.9,333.9 L798.0,332.4 L799.0,330.9 L800.2,329.5 L801.4,328.1 L802.7,326.7 L804.0,325.4 L805.5,324.2 L807.0,323.1 L808.7,322.0 L810.4,321.0 L812.2,320.3 L813.9,319.8 L815.6,319.8 L817.2,320.3 L818.6,321.2 L819.9,322.5 L821.0,324.1" fill="none" stroke="url(#hg)" stroke-width="8" stroke-dasharray="18.7 19.0" stroke-dashoffset="36.58" stroke-linecap="round" stroke-linejoin="round"/>
<path d="M821.0,324.1 L822.1,325.8 L822.9,327.4 L823.7,329.2 L824.4,330.9 L825.1,332.7 L825.7,334.4 L826.3,336.2 L827.0,338.0 L827.6,339.7 L828.2,341.5 L828.8,343.2 L829.5,345.0 L830.1,346.8 L830.7,348.5 L831.4,350.3 L832.0,352.0 L832.6,353.8 L833.3,355.5 L833.9,357.3 L834.5,359.1 L835.2,360.8 L835.8,362.6 L836.4,364.3 L837.1,366.1 L837.7,367.8 L838.4,369.6 L839.0,371.3 L839.6,373.1 L840.3,374.8 L840.9,376.6 L841.5,378.3 L842.2,380.1 L842.8,381.8 L843.4,383.6 L844.0,385.3 L844.7,387.1 L845.3,388.8 L845.9,390.6 L846.5,392.3 L847.1,394.1 L847.8,395.9 L848.4,397.6 L849.0,399.4 L849.6,401.1 L850.2,402.9 L850.8,404.6 L851.4,406.4 L852.0,408.2 L852.6,409.9 L853.2,411.7 L853.8,413.5 L854.4,415.2 L855.0,417.0 L855.5,418.8 L856.1,420.5 L856.7,422.3 L857.3,424.1 L857.8,425.8 L858.4,427.6 L859.0,429.4 L859.5,431.1 L860.1,432.9 L860.7,434.7 L861.2,436.5 L861.8,438.2 L862.3,440.0 L862.9,441.8 L863.4,443.6 L864.0,445.3 L864.5,447.1 L865.1,448.9 L865.6,450.7 L866.2,452.5 L866.7,454.2 L867.3,456.0 L867.8,457.8 L868.3,459.6 L868.9,461.4 L869.4,463.1 L869.9,464.9 L870.5,466.7 L871.0,468.5 L871.5,470.3 L872.1,472.1 L872.6,473.8 L873.1,475.6 L873.7,477.4 L874.2,479.2 L874.7,481.0 L875.2,482.8 L875.8,484.5 L876.3,486.3 L876.8,488.1 L877.4,489.9 L877.9,491.7 L878.4,493.5 L878.9,495.3 L879.5,497.0 L880.0,498.8 L880.5,500.6 L881.0,502.4 L881.6,504.2 L882.1,506.0 L882.6,507.8 L883.2,509.5 L883.7,511.3 L884.2,513.1 L884.8,514.9 L885.3,516.7 L885.8,518.5 L886.3,520.2 L886.9,522.0 L887.4,523.8 L887.9,525.6 L888.5,527.4 L889.0,529.2 L889.5,531.0 L890.1,532.7 L890.6,534.5 L891.1,536.3 L891.7,538.1 L892.2,539.9 L892.7,541.7 L893.3,543.4 L893.8,545.2 L894.3,547.0 L894.9,548.8 L895.4,550.6 L895.9,552.4 L896.5,554.1 L897.0,555.9 L897.6,557.7 L898.1,559.5 L898.6,561.3 L899.2,563.1 L899.7,564.8 L900.2,566.6 L900.8,568.4 L901.3,570.2 L901.8,572.0 L902.4,573.8 L902.9,575.5 L903.4,577.3 L904.0,579.1 L904.5,580.9 L905.1,582.7 L905.6,584.5 L906.1,586.3 L906.7,588.0 L907.2,589.8 L907.7,591.6 L908.3,593.4 L908.8,595.2 L909.3,597.0 L909.9,598.7 L910.4,600.5 L910.9,602.3 L911.5,604.1 L912.0,605.9 L912.5,607.7 L913.1,609.4 L913.6,611.2 L914.2,613.0 L914.7,614.8 L915.2,616.6 L915.8,618.4 L916.3,620.2 L916.8,621.9 L917.4,623.7 L917.9,625.5 L918.4,627.3 L919.0,629.1 L919.5,630.9 L920.0,632.6 L920.6,634.4 L921.1,636.2 L921.6,638.0 L922.2,639.8 L922.7,641.6 L923.2,643.4 L923.7,645.1 L924.3,646.9 L924.8,648.7 L925.3,650.5 L925.9,652.3 L926.4,654.1 L926.9,655.9 L927.5,657.7 L928.0,659.4 L928.5,661.2 L929.0,663.0 L929.6,664.8 L930.1,666.6 L930.6,668.4 L931.1,670.2 L931.7,671.9 L932.2,673.7 L932.7,675.5 L933.2,677.3 L933.8,679.1 L934.3,680.9 L934.8,682.7 L935.3,684.5 L935.9,686.3 L936.4,688.0 L936.9,689.8 L937.4,691.6 L937.9,693.4 L938.5,695.2 L939.0,697.0 L939.5,698.8 L940.0,700.6 L940.5,702.4 L941.0,704.1 L941.6,705.9 L942.1,707.7 L942.6,709.5 L943.1,711.3 L943.6,713.1 L944.1,714.9 L944.6,716.7 L945.2,718.5 L945.7,720.3 L946.2,722.1 L946.7,723.8 L947.2,725.6 L947.7,727.4 L948.2,729.2 L948.7,731.0 L949.2,732.8 L949.7,734.6 L950.2,736.4 L950.7,738.2 L951.2,740.0 L951.8,741.8 L952.3,743.6 L952.8,745.4 L953.3,747.2 L953.8,748.9 L954.3,750.7 L954.8,752.5 L955.3,754.3 L955.7,756.1 L956.2,757.9 L956.7,759.7 L957.2,761.5 L957.7,763.3 L958.2,765.1 L958.7,766.9 L959.2,768.7 L959.7,770.5 L960.2,772.3 L960.7,774.1 L961.2,775.9 L961.6,777.7 L962.1,779.5 L962.6,781.3 L963.1,783.1 L963.6,784.9 L964.1,786.7 L964.6,788.5 L965.0,790.3 L965.5,792.1 L966.0,793.9 L966.5,795.7 L966.9,797.5 L967.4,799.3 L967.9,801.1 L968.4,802.9 L968.8,804.7 L969.3,806.5 L969.8,808.3 L970.3,810.1 L970.7,811.9 L971.2,813.7 L971.7,815.5 L972.1,817.3 L972.6,819.1 L973.1,820.9 L973.5,822.7 L974.0,824.5 L974.5,826.3 L974.9,828.1 L975.4,829.9 L975.9,831.8 L976.3,833.6 L976.8,835.4 L977.2,837.2 L977.7,839.0 L978.2,840.8 L978.6,842.6 L979.1,844.4 L979.6,846.2 L980.0,848.0 L980.5,849.8 L980.9,851.6 L981.4,853.4 L981.9,855.2 L982.3,857.0 L982.8,858.8 L983.2,860.6 L983.7,862.4 L984.2,864.3 L984.6,866.1 L985.1,867.9 L985.5,869.7 L986.0,871.5 L986.5,873.3 L986.9,875.1 L987.4,876.9 L987.9,878.7 L988.3,880.5 L988.8,882.3 L989.2,884.1 L989.7,885.9 L990.2,887.7 L990.6,889.5 L991.1,891.3 L991.6,893.1 L992.0,894.9 L992.5,896.7 L993.0,898.5 L993.4,900.3 L993.9,902.2 L994.4,904.0 L994.9,905.8 L995.3,907.6 L995.8,909.4 L996.3,911.2 L996.7,913.0 L997.2,914.8 L997.7,916.6 L998.2,918.4 L998.6,920.2 L999.1,922.0 L999.6,923.8 L1000.1,925.6 L1000.6,927.4 L1001.0,929.2 L1001.5,931.0 L1002.0,932.8 L1002.5,934.6 L1003.0,936.4 L1003.5,938.2 L1004.0,940.0 L1004.5,941.8 L1005.0,943.6 L1005.4,945.4 L1005.9,947.2 L1006.4,949.0 L1006.9,950.8 L1007.4,952.5 L1007.9,954.3 L1008.4,956.1 L1008.9,957.9 L1009.5,959.7 L1010.0,961.5 L1010.5,963.3 L1011.0,965.1 L1011.5,966.9 L1012.0,968.7 L1012.5,970.5 L1013.1,972.3 L1013.6,974.0 L1014.1,975.8 L1014.6,977.6 L1015.2,979.4 L1015.7,981.2 L1016.2,983.0 L1016.8,984.8 L1017.3,986.5 L1017.8,988.3 L1018.4,990.1 L1018.9,991.9 L1019.5,993.7 L1020.0,995.4 L1020.6,997.2 L1021.1,999.0 L1021.7,1000.8 L1022.3,1002.5 L1022.8,1004.3 L1023.4,1006.1 L1024.0,1007.8 L1024.5,1009.6 L1025.1,1011.4 L1025.7,1013.1 L1026.3,1014.9 L1026.9,1016.7 L1027.5,1018.4 L1028.1,1020.2 L1028.7,1021.9 L1029.3,1023.7 L1029.9,1025.5 L1030.5,1027.2 L1031.2,1029.0 L1031.8,1030.7 L1032.5,1032.4 L1033.1,1034.2 L1033.8,1035.9 L1034.5,1037.7 L1035.2,1039.4 L1035.9,1041.1 L1036.6,1042.9 L1037.3,1044.6 L1038.1,1046.3 L1038.8,1048.1 L1039.6,1049.8 L1040.4,1051.5 L1041.2,1053.2 L1042.0,1054.9 L1042.9,1056.6 L1043.8,1058.2 L1044.7,1059.9 L1045.7,1061.5 L1046.7,1063.0 L1047.7,1064.6 L1048.9,1066.1 L1050.0,1067.5 L1051.3,1068.9 L1052.5,1070.3 L1053.9,1071.6 L1055.3,1072.8 L1056.8,1074.0 L1058.4,1075.1 L1060.0,1076.1 L1061.6,1077.1 L1063.3,1078.0 L1065.0,1078.7 L1066.8,1079.5 L1068.6,1080.1 L1070.4,1080.6 L1072.2,1081.0 L1074.1,1081.3 L1075.9,1081.6 L1077.8,1081.7" fill="none" stroke="url(#hg)" stroke-width="8" stroke-dasharray="18.7 19.0" stroke-dashoffset="6.31" stroke-linecap="round" stroke-linejoin="round"/>
<path d="M1077.8,1081.7 L1079.6,1081.7 L1081.5,1081.7 L1083.3,1081.6 L1085.2,1081.5 L1087.1,1081.3 L1088.9,1081.1 L1090.8,1080.9 L1092.6,1080.6 L1094.5,1080.4 L1096.3,1080.2 L1098.2,1079.9 L1100.1,1079.7 L1101.9,1079.5 L1103.8,1079.2 L1105.6,1079.0 L1107.5,1078.8 L1109.3,1078.6 L1111.2,1078.3 L1113.0,1078.1 L1114.9,1077.9 L1116.7,1077.6 L1118.6,1077.4 L1120.4,1077.2 L1122.3,1076.9 L1124.1,1076.7 L1125.9,1076.5 L1127.8,1076.2 L1129.6,1076.0 L1131.5,1075.7 L1133.3,1075.5 L1135.2,1075.2 L1137.0,1075.0 L1138.8,1074.7 L1140.7,1074.5 L1142.5,1074.2 L1144.4,1074.0 L1146.2,1073.7 L1148.1,1073.4 L1149.9,1073.2 L1151.7,1072.9 L1153.6,1072.6 L1155.4,1072.3 L1157.3,1072.1 L1159.1,1071.8 L1161.0,1071.5 L1162.8,1071.2 L1164.7,1071.0 L1166.5,1070.7 L1168.3,1070.4 L1170.2,1070.1 L1172.0,1069.9 L1173.9,1069.6 L1175.7,1069.3 L1177.6,1069.0 L1179.4,1068.8 L1181.3,1068.5 L1183.1,1068.2 L1184.9,1068.0 L1186.8,1067.7 L1188.6,1067.4 L1190.5,1067.2 L1192.3,1066.9 L1194.2,1066.7 L1196.0,1066.4 L1197.9,1066.2 L1199.7,1065.9 L1201.6,1065.7 L1203.4,1065.5 L1205.3,1065.2 L1207.1,1065.0 L1209.0,1064.8 L1210.8,1064.5 L1212.7,1064.3 L1214.5,1064.1 L1216.4,1063.9 L1218.2,1063.7 L1220.1,1063.5 L1221.9,1063.3 L1223.8,1063.2 L1225.6,1063.0 L1227.5,1062.8 L1229.3,1062.6 L1231.2,1062.5 L1233.1,1062.3 L1234.9,1062.2 L1236.8,1062.0 L1238.6,1061.9 L1240.5,1061.8 L1242.4,1061.7 L1244.2,1061.6 L1246.1,1061.5 L1247.9,1061.4 L1249.8,1061.3 L1251.7,1061.2 L1253.5,1061.2 L1255.4,1061.1 L1257.3,1061.1 L1259.1,1061.0 L1261.0,1061.0" fill="none" stroke="url(#hg)" stroke-width="8" stroke-dasharray="18.7 19.0" stroke-dashoffset="24.07" stroke-linecap="round" stroke-linejoin="round"/>
<circle cx="549.3" cy="1030.5" r="25.7" fill="#e7e9eb"/>
<circle cx="807" cy="677.3" r="26.5" fill="#a1b8c7"/>
<circle cx="1094" cy="223.8" r="25.5" fill="#a8c6da"/>
<circle cx="549.3" cy="1030.5" r="25.7" fill="none" stroke="#e8000b" stroke-width="6"/>
<circle cx="807" cy="677.3" r="26.6" fill="none" stroke="#dc4e5d" stroke-width="5.8"/>
<circle cx="1094" cy="223.8" r="25.5" fill="none" stroke="#b01a3a" stroke-width="5.5"/>
<path d="M336.6,1026.3 L338.9,1026.3 L341.2,1026.3 L343.5,1026.3 L345.9,1026.4 L348.2,1026.4 L350.5,1026.5 L352.9,1026.5 L355.2,1026.6 L357.5,1026.7 L359.9,1026.8 L362.2,1026.9 L364.6,1027.0 L366.9,1027.1 L369.2,1027.2 L371.6,1027.3 L373.9,1027.4 L376.3,1027.6 L378.6,1027.7 L381.0,1027.8 L383.3,1028.0 L385.7,1028.1 L388.0,1028.3 L390.4,1028.5 L392.8,1028.6 L395.1,1028.8 L397.5,1028.9 L399.8,1029.1 L402.2,1029.3 L404.6,1029.4 L406.9,1029.6 L409.3,1029.8 L411.6,1030.0 L414.0,1030.1 L416.4,1030.3 L418.7,1030.5 L421.1,1030.7 L423.5,1030.8 L425.8,1031.0 L428.2,1031.2 L430.6,1031.3 L432.9,1031.5 L435.3,1031.6 L437.7,1031.8 L440.0,1032.0 L442.4,1032.1 L444.8,1032.2 L447.1,1032.4 L449.5,1032.5 L451.9,1032.6 L454.2,1032.8 L456.6,1032.9 L459.0,1033.0 L461.3,1033.1 L463.7,1033.2 L466.1,1033.3 L468.4,1033.4 L470.8,1033.4 L473.2,1033.5 L475.5,1033.5 L477.9,1033.6 L480.3,1033.6 L482.6,1033.7 L485.0,1033.7 L487.4,1033.7 L489.7,1033.7 L492.1,1033.7 L494.4,1033.6 L496.8,1033.6 L499.1,1033.6 L501.5,1033.5 L503.8,1033.4 L506.2,1033.3 L508.6,1033.2 L510.9,1033.1 L513.2,1033.0 L515.6,1032.8 L517.9,1032.6 L520.3,1032.4 L522.6,1032.2 L524.9,1032.0 L527.2,1031.7 L529.6,1031.4 L531.9,1031.1 L534.2,1030.8 L536.5,1030.4 L538.7,1030.0 L541.0,1029.6 L543.3,1029.1 L545.5,1028.6 L547.8,1028.1 L550.0,1027.5 L552.3,1026.9 L554.5,1026.3 L556.7,1025.6 L558.9,1024.9 L561.0,1024.1 L563.2,1023.3 L565.3,1022.4 L567.5,1021.5 L569.6,1020.6 L571.7,1019.6 L573.8,1018.6 L575.9,1017.6 L578.0,1016.5 L580.1,1015.4 L582.1,1014.3 L584.2,1013.1 L586.2,1012.0 L588.3,1010.8 L590.3,1009.6 L592.4,1008.4 L594.4,1007.2 L596.5,1006.0 L598.5,1004.8 L600.6,1003.6 L602.6,1002.4 L604.6,1001.1 L606.7,999.9 L608.7,998.7 L610.7,997.5 L612.8,996.2 L614.8,995.0 L616.8,993.8 L618.8,992.5 L620.8,991.3 L622.8,990.0 L624.8,988.7 L626.8,987.4 L628.8,986.1 L630.8,984.9 L632.8,983.5 L634.8,982.2 L636.7,980.9 L638.7,979.6 L640.6,978.2 L642.5,976.8 L644.5,975.5 L646.4,974.1 L648.3,972.7 L650.2,971.3 L652.1,969.8 L654.0,968.4 L655.8,966.9 L657.7,965.5 L659.5,964.0 L661.4,962.5 L663.2,961.0 L665.0,959.5 L666.8,957.9 L668.6,956.4 L670.3,954.8 L672.1,953.2 L673.8,951.7 L675.6,950.1 L677.3,948.4 L679.0,946.8 L680.7,945.2 L682.3,943.5 L684.0,941.8 L685.6,940.2 L687.2,938.5 L688.9,936.8 L690.5,935.1 L692.0,933.3 L693.6,931.6 L695.1,929.8 L696.7,928.1 L698.2,926.3 L699.7,924.5 L701.1,922.7 L702.6,920.8 L704.0,919.0 L705.5,917.2 L706.9,915.3 L708.2,913.4 L709.6,911.6 L711.0,909.7 L712.3,907.8 L713.6,905.8 L714.9,903.9 L716.2,902.0 L717.5,900.0 L718.7,898.1 L720.0,896.1 L721.2,894.1 L722.4,892.1 L723.6,890.1 L724.8,888.1 L725.9,886.1 L727.1,884.1 L728.2,882.0 L729.4,880.0 L730.5,877.9 L731.6,875.8 L732.7,873.8 L733.7,871.7 L734.8,869.6 L735.8,867.5 L736.9,865.4 L737.9,863.3 L738.9,861.2 L739.9,859.0 L740.9,856.9 L741.9,854.8 L742.9,852.6 L743.8,850.5 L744.8,848.3 L745.7,846.2 L746.6,844.0 L747.6,841.8 L748.5,839.6 L749.4,837.4 L750.3,835.3 L751.2,833.1 L752.0,830.9 L752.9,828.7 L753.8,826.5 L754.6,824.2 L755.5,822.0 L756.3,819.8 L757.2,817.6 L758.0,815.4 L758.8,813.1 L759.6,810.9 L760.4,808.7 L761.2,806.4 L762.0,804.2 L762.8,802.0 L763.6,799.7 L764.4,797.5 L765.2,795.2 L766.0,793.0 L766.7,790.8 L767.5,788.5 L768.3,786.3 L769.0,784.0 L769.8,781.8 L770.5,779.5 L771.3,777.3 L772.0,775.0 L772.8,772.8 L773.5,770.5 L774.3,768.3 L775.0,766.0 L775.8,763.8 L776.5,761.5 L777.2,759.3 L778.0,757.0 L778.7,754.8 L779.4,752.6 L780.1,750.3 L780.9,748.1 L781.6,745.8 L782.3,743.6 L783.0,741.3 L783.7,739.1 L784.4,736.8 L785.2,734.6 L785.9,732.3 L786.6,730.1 L787.3,727.8 L788.0,725.6 L788.7,723.3 L789.4,721.1 L790.1,718.8 L790.8,716.6 L791.5,714.3 L792.2,712.1 L792.9,709.9 L793.6,707.6 L794.3,705.4 L795.0,703.1 L795.7,700.9 L796.4,698.6 L797.1,696.4 L797.8,694.1 L798.4,691.9 L799.1,689.6 L799.8,687.4 L800.5,685.1 L801.2,682.9 L801.9,680.7 L802.6,678.4 L803.3,676.2 L804.0,673.9 L804.6,671.7 L805.3,669.4 L806.0,667.2 L806.7,664.9 L807.4,662.7 L808.1,660.4 L808.8,658.2 L809.5,656.0 L810.2,653.7 L810.9,651.5 L811.5,649.2 L812.2,647.0 L812.9,644.7 L813.6,642.5 L814.3,640.2 L815.0,638.0 L815.7,635.8 L816.4,633.5 L817.1,631.3 L817.8,629.0 L818.5,626.8 L819.2,624.5 L819.9,622.3 L820.6,620.1 L821.3,617.8 L822.0,615.6 L822.7,613.3 L823.4,611.1 L824.1,608.9 L824.9,606.6 L825.6,604.4 L826.3,602.1 L827.0,599.9 L827.7,597.7 L828.4,595.4 L829.1,593.2 L829.9,590.9 L830.6,588.7 L831.3,586.5 L832.0,584.2 L832.8,582.0 L833.5,579.8 L834.2,577.5 L834.9,575.3 L835.7,573.0 L836.4,570.8 L837.1,568.6 L837.9,566.3 L838.6,564.1 L839.4,561.9 L840.1,559.6 L840.8,557.4 L841.6,555.2 L842.3,553.0 L843.1,550.7 L843.8,548.5 L844.6,546.3 L845.3,544.0 L846.1,541.8 L846.9,539.6 L847.6,537.4 L848.4,535.1 L849.2,532.9 L849.9,530.7 L850.7,528.5 L851.5,526.2 L852.2,524.0 L853.0,521.8 L853.8,519.6 L854.6,517.4 L855.4,515.1 L856.2,512.9 L857.0,510.7 L857.7,508.5 L858.5,506.3 L859.3,504.1 L860.1,501.9 L860.9,499.6 L861.8,497.4 L862.6,495.2 L863.4,493.0 L864.2,490.8 L865.0,488.6 L865.8,486.4 L866.6,484.2 L867.5,482.0 L868.3,479.8 L869.1,477.6 L870.0,475.4 L870.8,473.2 L871.6,471.0 L872.5,468.8 L873.3,466.6 L874.2,464.4 L875.0,462.2 L875.9,460.0 L876.7,457.8 L877.6,455.6 L878.5,453.4 L879.3,451.2 L880.2,449.0 L881.1,446.8 L882.0,444.6 L882.9,442.5 L883.7,440.3 L884.6,438.1 L885.5,435.9 L886.4,433.7 L887.3,431.6 L888.2,429.4 L889.1,427.2 L890.0,425.0 L891.0,422.8 L891.9,420.7 L892.8,418.5 L893.7,416.3 L894.6,414.2 L895.6,412.0 L896.5,409.8 L897.5,407.7 L898.4,405.5 L899.4,403.3 L900.3,401.2 L901.3,399.0 L902.2,396.9 L903.2,394.7 L904.2,392.5 L905.1,390.4 L906.1,388.2 L907.1,386.1 L908.1,383.9 L909.1,381.8 L910.1,379.6 L911.1,377.5 L912.1,375.4 L913.1,373.2 L914.1,371.1 L915.1,368.9 L916.1,366.8 L917.1,364.7 L918.2,362.5 L919.2,360.4 L920.2,358.3 L921.3,356.1 L922.3,354.0 L923.4,351.9 L924.4,349.8 L925.5,347.7 L926.6,345.5 L927.7,343.4 L928.7,341.3 L929.8,339.2 L930.9,337.1 L932.1,335.0 L933.2,333.0 L934.3,330.9 L935.4,328.8 L936.6,326.7 L937.7,324.7 L938.9,322.6 L940.1,320.6 L941.3,318.5 L942.5,316.5 L943.7,314.5 L944.9,312.5 L946.1,310.5 L947.4,308.5 L948.6,306.5 L949.9,304.5 L951.2,302.5 L952.5,300.6 L953.8,298.6 L955.1,296.7 L956.5,294.8 L957.8,292.9 L959.2,291.0 L960.6,289.1 L962.0,287.2 L963.4,285.3 L964.8,283.5 L966.3,281.7 L967.8,279.8 L969.3,278.0 L970.8,276.2 L972.3,274.5 L973.8,272.7 L975.4,270.9 L977.0,269.2 L978.6,267.5 L980.2,265.8 L981.8,264.1 L983.5,262.4 L985.2,260.8 L986.9,259.2 L988.6,257.6 L990.3,256.0 L992.1,254.4 L993.8,252.9 L995.6,251.4 L997.4,249.9 L999.3,248.5 L1001.1,247.1 L1003.0,245.7 L1004.9,244.4 L1006.8,243.0 L1008.8,241.8 L1010.7,240.5 L1012.7,239.3 L1014.7,238.2 L1016.7,237.0 L1018.8,235.9 L1020.8,234.9 L1022.9,233.9 L1025.0,232.9 L1027.1,232.0 L1029.3,231.2 L1031.4,230.4 L1033.6,229.6 L1035.8,228.9 L1038.0,228.2 L1040.3,227.6 L1042.5,227.0 L1044.8,226.5 L1047.1,226.0 L1049.4,225.5 L1051.8,225.1 L1054.1,224.7 L1056.4,224.4 L1058.8,224.0 L1061.1,223.7 L1063.5,223.4 L1065.9,223.1 L1068.3,222.9 L1070.6,222.6 L1073.0,222.4 L1075.4,222.1 L1077.8,221.9 L1080.1,221.7 L1082.5,221.4 L1084.9,221.2 L1087.3,221.0 L1089.6,220.8 L1092.0,220.5 L1094.4,220.3 L1096.7,220.1 L1099.1,219.9 L1101.5,219.7 L1103.8,219.4 L1106.2,219.2 L1108.6,219.0 L1110.9,218.8 L1113.3,218.5 L1115.6,218.3 L1118.0,218.1 L1120.3,217.9 L1122.7,217.6 L1125.0,217.4 L1127.4,217.1 L1129.7,216.9 L1132.1,216.6 L1134.4,216.4 L1136.7,216.1 L1139.1,215.8 L1141.4,215.6 L1143.8,215.3 L1146.1,215.0 L1148.4,214.7 L1150.8,214.4 L1153.1,214.1 L1155.4,213.8 L1157.7,213.5 L1160.1,213.2 L1162.4,212.9 L1164.7,212.6 L1167.0,212.3 L1169.4,211.9 L1171.7,211.6 L1174.0,211.3 L1176.3,211.0 L1178.6,210.6 L1181.0,210.3 L1183.3,210.0 L1185.6,209.6 L1187.9,209.3 L1190.3,209.0 L1192.6,208.6 L1194.9,208.3 L1197.2,208.0 L1199.5,207.7 L1201.9,207.3 L1204.2,207.0 L1206.5,206.7 L1208.8,206.3 L1211.2,206.0 L1213.5,205.7 L1215.8,205.4 L1218.2,205.0 L1220.5,204.7 L1222.8,204.4 L1225.2,204.1 L1227.5,203.8 L1229.8,203.5 L1232.2,203.2 L1234.5,202.9 L1236.9,202.6 L1239.2,202.3 L1241.6,202.0 L1243.9,201.7 L1246.3,201.4 L1248.6,201.2 L1251.0,200.9 L1253.3,200.6 L1255.7,200.4 L1258.0,200.1" fill="none" stroke="#e8000b" stroke-width="8.5" stroke-linecap="round" stroke-linejoin="round"/>
<rect x="304.5" y="31" width="8" height="1163" fill="#000"/>
<rect x="304.5" y="29.8" width="1071" height="3.8" fill="#000"/>
<rect x="304.5" y="33.4" width="344" height="6.0" fill="#141e24"/>
<rect x="648" y="33.4" width="343" height="6.0" fill="#0b2232"/>
<rect x="304.5" y="1187.5" width="1071" height="7.5" fill="#000"/>
<rect x="1349" y="31" width="4.5" height="1164" fill="#000"/>
<rect x="1349" y="29.8" width="26.5" height="6" fill="#000"/>
<rect x="312" y="1098.2" width="14" height="5" fill="#000"/>
<rect x="312" y="1009.4" width="14" height="5" fill="#000"/>
<rect x="312" y="920.5" width="14" height="5" fill="#000"/>
<rect x="312" y="831.7" width="14" height="5" fill="#000"/>
<rect x="312" y="742.8" width="21" height="5" fill="#000"/>
<rect x="312" y="653.9" width="14" height="5" fill="#000"/>
<rect x="312" y="565.1" width="14" height="5" fill="#000"/>
<rect x="312" y="476.2" width="14" height="5" fill="#000"/>
<rect x="312" y="387.4" width="14" height="5" fill="#000"/>
<rect x="312" y="298.5" width="21" height="5" fill="#000"/>
<rect x="312" y="209.6" width="14" height="5" fill="#000"/>
<rect x="312" y="120.8" width="14" height="5" fill="#000"/>
<rect x="1353" y="1022.5" width="22.5" height="5.5" fill="#000"/>
<rect x="1353" y="857.5" width="22.5" height="5.5" fill="#000"/>
<rect x="1353" y="692.5" width="22.5" height="5.5" fill="#000"/>
<rect x="1353" y="527.4" width="22.5" height="5.5" fill="#000"/>
<rect x="1353" y="362.4" width="22.5" height="5.5" fill="#000"/>
<rect x="1353" y="197.4" width="22.5" height="5.5" fill="#000"/>
<rect x="423.8" y="1175.0" width="5" height="14" fill="#000"/>
<rect x="661.8" y="1175.0" width="5" height="14" fill="#000"/>
<rect x="780.8" y="1169.0" width="5" height="20" fill="#000"/>
<rect x="899.8" y="1175.0" width="5" height="14" fill="#000"/>
<rect x="1018.8" y="1175.0" width="5" height="14" fill="#000"/>
<rect x="1137.8" y="1175.0" width="5" height="14" fill="#000"/>
<rect x="1256.8" y="1169.0" width="5" height="20" fill="#000"/>
<text x="340.60" y="119.95" font-family="'DejaVu Sans Condensed','DejaVu Sans',sans-serif" font-size="68.5" font-weight="normal" fill="#000" textLength="305.49" lengthAdjust="spacingAndGlyphs">lag-phase</text>
<text x="718.60" y="101.00" font-family="'DejaVu Sans Condensed','DejaVu Sans',sans-serif" font-size="68.5" font-weight="normal" fill="#000" textLength="210.26" lengthAdjust="spacingAndGlyphs">expon.</text>
<text x="717.40" y="183.30" font-family="'DejaVu Sans Condensed','DejaVu Sans',sans-serif" font-size="68.5" font-weight="normal" fill="#000" textLength="215.95" lengthAdjust="spacingAndGlyphs">growth</text>
<text x="1005.80" y="112.70" font-family="'DejaVu Sans Condensed','DejaVu Sans',sans-serif" font-size="68.5" font-weight="normal" fill="#000" textLength="339.52" lengthAdjust="spacingAndGlyphs">stat. phase</text>
<text x="459.00" y="978.35" font-family="'DejaVu Sans Condensed','DejaVu Sans',sans-serif" font-size="80" font-weight="normal" fill="#000" textLength="45.56" lengthAdjust="spacingAndGlyphs">a</text>
<text x="859.80" y="765.40" font-family="'DejaVu Sans Condensed','DejaVu Sans',sans-serif" font-size="80" font-weight="normal" fill="#000" textLength="49.27" lengthAdjust="spacingAndGlyphs">b</text>
<text x="1131.00" y="327.25" font-family="'DejaVu Sans Condensed','DejaVu Sans',sans-serif" font-size="80" font-weight="normal" fill="#000" textLength="45.31" lengthAdjust="spacingAndGlyphs">c</text>
<text x="120.00" y="325.40" font-family="'DejaVu Sans Condensed','DejaVu Sans',sans-serif" font-size="72" font-weight="normal" fill="#000" textLength="121.60" lengthAdjust="spacingAndGlyphs">450</text>
<text x="119.80" y="768.95" font-family="'DejaVu Sans Condensed','DejaVu Sans',sans-serif" font-size="72" font-weight="normal" fill="#000" textLength="123.14" lengthAdjust="spacingAndGlyphs">200</text>
<text x="133.20" y="1216.20" font-family="'DejaVu Sans Condensed','DejaVu Sans',sans-serif" font-size="72" font-weight="normal" fill="#000" textLength="109.61" lengthAdjust="spacingAndGlyphs">-50</text>
<text x="287.40" y="1311.30" font-family="'DejaVu Sans Condensed','DejaVu Sans',sans-serif" font-size="72" font-weight="normal" fill="#000" textLength="43.70" lengthAdjust="spacingAndGlyphs">0</text>
<text x="743.40" y="1311.40" font-family="'DejaVu Sans Condensed','DejaVu Sans',sans-serif" font-size="72" font-weight="normal" fill="#000" textLength="82.23" lengthAdjust="spacingAndGlyphs">10</text>
<text x="1216.40" y="1311.20" font-family="'DejaVu Sans Condensed','DejaVu Sans',sans-serif" font-size="72" font-weight="normal" fill="#000" textLength="85.24" lengthAdjust="spacingAndGlyphs">20</text>
<text x="1423.60" y="223.85" font-family="'DejaVu Sans Condensed','DejaVu Sans',sans-serif" font-size="79" font-weight="normal" fill="#000" textLength="112.06" lengthAdjust="spacingAndGlyphs">1.0</text>
<text x="1420.40" y="391.25" font-family="'DejaVu Sans Condensed','DejaVu Sans',sans-serif" font-size="79" font-weight="normal" fill="#000" textLength="115.18" lengthAdjust="spacingAndGlyphs">0.8</text>
<text x="1420.80" y="556.65" font-family="'DejaVu Sans Condensed','DejaVu Sans',sans-serif" font-size="79" font-weight="normal" fill="#000" textLength="114.19" lengthAdjust="spacingAndGlyphs">0.6</text>
<text x="1420.80" y="723.05" font-family="'DejaVu Sans Condensed','DejaVu Sans',sans-serif" font-size="79" font-weight="normal" fill="#000" textLength="113.02" lengthAdjust="spacingAndGlyphs">0.4</text>
<text x="1420.80" y="888.45" font-family="'DejaVu Sans Condensed','DejaVu Sans',sans-serif" font-size="79" font-weight="normal" fill="#000" textLength="116.62" lengthAdjust="spacingAndGlyphs">0.2</text>
<text x="1420.20" y="1052.85" font-family="'DejaVu Sans Condensed','DejaVu Sans',sans-serif" font-size="79" font-weight="normal" fill="#000" textLength="114.30" lengthAdjust="spacingAndGlyphs">0.0</text>
<text x="656.40" y="1426.50" font-family="'DejaVu Sans Condensed','DejaVu Sans',sans-serif" font-size="82" font-weight="bold" fill="#000" textLength="341.13" lengthAdjust="spacingAndGlyphs">Time (h)</text>
<g transform="translate(85.50,985.00) rotate(-90)"><text x="0" y="0" font-family="'DejaVu Sans Condensed','DejaVu Sans',sans-serif" font-size="82" font-weight="bold" fill="#000" textLength="620.47" lengthAdjust="spacingAndGlyphs">Heat-flow (µW)</text></g>
<g transform="translate(1633.95,1056.20) rotate(-90)"><text x="0" y="0" font-family="'DejaVu Sans Condensed','DejaVu Sans',sans-serif" font-size="82" font-weight="bold" fill="#000" textLength="743.00" lengthAdjust="spacingAndGlyphs">Fractional reaction</text></g>
<line x1="60.2" y1="243" x2="60.2" y2="339" stroke="#000" stroke-width="9" stroke-dasharray="25 10"/>
<line x1="1596.6" y1="162.5" x2="1596.6" y2="294" stroke="#e00000" stroke-width="11"/>
</svg>
</body></html>
